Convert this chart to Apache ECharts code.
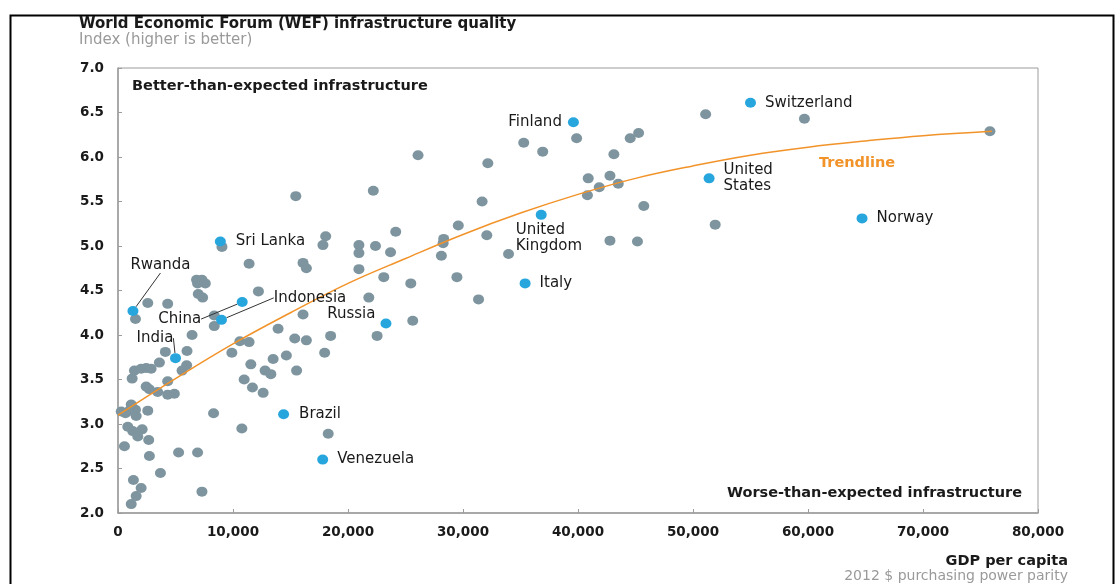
<!DOCTYPE html>
<html>
<head>
<meta charset="utf-8">
<title>WEF infrastructure quality vs GDP per capita</title>
<script src="https://cdn.jsdelivr.net/npm/echarts@6/dist/echarts.min.js"></script>
<style>
  html, body { margin: 0; padding: 0; background: #fff; }
  #chart { width: 1115px; height: 584px; }
</style>
</head>
<body>
<div id="chart"></div>
<script>
// unlabelled countries: GDP per capita (2012 $ PPP) and WEF index
const otherGdp = [
  1150, 1580, 2010, 1340, 3690, 7300, 560, 2730, 5270, 6920,
  850, 1280, 2100, 1720, 2670, 10770, 8310,
  1150, 1520, 1000, 1580, 650, 280, 2590,
  2450, 2730, 3450, 4320, 4900, 1230, 4320,
  1430, 2010, 2450, 2880, 3600, 4120, 6000, 5970, 5570,
  9900, 11550, 13490, 14640, 12790, 13290, 15530,
  10970, 11690, 12620, 10600, 11400, 6440, 13920,
  15370, 16380, 18490, 22530, 17970, 16090, 8370, 8370,
  1520, 2590, 4320, 12210,
  6830, 7300, 7590, 6920, 6980, 7360,
  11400, 9040, 16090, 16380, 18060, 17820,
  20950, 22390, 20950, 23700, 20950, 23110, 21810, 25460, 25630, 18280,
  15460, 22200, 24150, 26090, 32160, 35280, 31660, 29590, 32070,
  28320, 28270, 28120, 33960, 29470, 31350,
  36930, 39880, 44540, 45270, 43120,
  40890, 42780, 41850, 43500, 40820, 45720, 42780, 45170,
  51100, 59690, 75820, 51930
];
const otherWef = [
  2.10, 2.19, 2.28, 2.37, 2.45, 2.24, 2.75, 2.64, 2.68, 2.68,
  2.97, 2.92, 2.94, 2.86, 2.82, 2.95, 3.12,
  3.22, 3.16, 3.15, 3.09, 3.12, 3.14, 3.15,
  3.42, 3.39, 3.36, 3.33, 3.34, 3.51, 3.48,
  3.60, 3.62, 3.63, 3.62, 3.69, 3.81, 3.82, 3.66, 3.60,
  3.80, 3.67, 3.73, 3.77, 3.60, 3.56, 3.60,
  3.50, 3.41, 3.35, 3.93, 3.92, 4.00, 4.07,
  3.96, 3.94, 3.99, 3.99, 3.80, 4.23, 4.22, 4.10,
  4.18, 4.36, 4.35, 4.49,
  4.62, 4.62, 4.58, 4.58, 4.46, 4.42,
  4.80, 4.99, 4.81, 4.75, 5.11, 5.01,
  5.01, 5.00, 4.92, 4.93, 4.74, 4.65, 4.42, 4.58, 4.16, 2.89,
  5.56, 5.62, 5.16, 6.02, 5.93, 6.16, 5.50, 5.23, 5.12,
  5.08, 5.03, 4.89, 4.91, 4.65, 4.40,
  6.06, 6.21, 6.21, 6.27, 6.03,
  5.76, 5.79, 5.66, 5.70, 5.57, 5.45, 5.06, 5.05,
  6.48, 6.43, 6.29, 5.24
];

// highlighted countries
const countries = [
  "Switzerland", "Finland", "United States", "Norway", "United Kingdom",
  "Sri Lanka", "Italy", "Rwanda", "China", "Indonesia",
  "Russia", "India", "Brazil", "Venezuela"
];
const countryGdp = [55000, 39600, 51400, 64700, 36800, 8900, 35400, 1300, 10800, 9000, 23300, 5000, 14400, 17800];
const countryWef = [6.61, 6.39, 5.76, 5.31, 5.35, 5.05, 4.58, 4.27, 4.37, 4.17, 4.13, 3.74, 3.11, 2.60];

// trendline
const trendGdp = [0, 5000, 10000, 15000, 20000, 25000, 30000, 35000, 40000, 45000, 50000, 55000, 60000, 65000, 70000, 76000];
const trendWef = [3.10, 3.51, 3.90, 4.25, 4.58, 4.86, 5.13, 5.37, 5.58, 5.76, 5.90, 6.02, 6.11, 6.18, 6.24, 6.29];

const FONT = "DejaVu Sans, sans-serif";
const GREY_DOT = "#7e959f";
const BLUE_DOT = "#27a6de";
const ORANGE = "#f2932a";
const AXIS_GREY = "#9c9c9c";

// where each country's label sits next to its dot
const labelPlacement = {
  "Switzerland": { position: "right", distance: 9 },
  "Finland": { position: "left", distance: 6 },
  "United States": { position: "right", distance: 9, text: "United\nStates" },
  "Norway": { position: "right", distance: 9 },
  "United Kingdom": { position: [-20, 12], align: "left", verticalAlign: "top", text: "United\nKingdom" },
  "Sri Lanka": { position: "right", distance: 10 },
  "Italy": { position: "right", distance: 9 },
  "Rwanda": { position: [33, -41], align: "center", verticalAlign: "middle", line: true },
  "China": { position: [-57, 22], align: "center", verticalAlign: "middle", line: true },
  "Indonesia": { position: [94, -17], align: "center", verticalAlign: "middle", line: true },
  "Russia": { position: [-5, -4], align: "right", verticalAlign: "middle" },
  "India": { position: [-15, -15], align: "center", verticalAlign: "middle", line: true },
  "Brazil": { position: "right", distance: 10 },
  "Venezuela": { position: "right", distance: 9 }
};

const otherPoints = otherGdp.map((g, i) => [g, otherWef[i]]);
const trendPoints = trendGdp.map((g, i) => [g, trendWef[i]]);
const countryPoints = countries.map((name, i) => {
  const p = labelPlacement[name];
  const label = { position: p.position, formatter: p.text || name };
  if (p.distance !== undefined) label.distance = p.distance;
  if (p.align) label.align = p.align;
  if (p.verticalAlign) label.verticalAlign = p.verticalAlign;
  const item = { name: name, value: [countryGdp[i], countryWef[i]], label: label };
  if (p.line) {
    item.labelLine = { show: true, lineStyle: { color: "#333", width: 1 } };
  }
  return item;
});

const chart = echarts.init(document.getElementById("chart"));

const option = {
  backgroundColor: "#fff",
  animation: false,
  title: {
    text: "World Economic Forum (WEF) infrastructure quality",
    subtext: "Index (higher is better)",
    left: 79,
    top: 16,
    itemGap: 0,
    padding: 0,
    textStyle: { fontFamily: FONT, fontSize: 15, fontWeight: "bold", color: "#1a1a1a", lineHeight: 17 },
    subtextStyle: { fontFamily: FONT, fontSize: 15, color: "#9a9a9a", lineHeight: 14 }
  },
  grid: {
    left: 118,
    right: 77,
    top: 68,
    bottom: 71,
    show: true,
    borderColor: AXIS_GREY,
    borderWidth: 1
  },
  xAxis: {
    type: "value",
    min: 0,
    max: 80000,
    interval: 10000,
    axisLine: { show: true, lineStyle: { color: AXIS_GREY, width: 1.5 } },
    axisTick: { show: true, inside: true, length: 4, lineStyle: { color: AXIS_GREY } },
    splitLine: { show: false },
    axisLabel: {
      margin: 12,
      fontFamily: FONT,
      fontSize: 13.5,
      fontWeight: "bold",
      color: "#1a1a1a",
      formatter: v => v.toLocaleString("en-US")
    }
  },
  yAxis: {
    type: "value",
    min: 2,
    max: 7,
    interval: 0.5,
    axisLine: { show: true, lineStyle: { color: AXIS_GREY, width: 1.5 } },
    axisTick: { show: true, inside: true, length: 4, lineStyle: { color: AXIS_GREY } },
    splitLine: { show: false },
    axisLabel: {
      margin: 14,
      fontFamily: FONT,
      fontSize: 13.5,
      fontWeight: "bold",
      color: "#1a1a1a",
      formatter: v => v.toFixed(1)
    }
  },
  series: [
    {
      name: "Other countries",
      type: "scatter",
      data: otherPoints,
      symbolSize: [11, 10],
      itemStyle: { color: GREY_DOT, opacity: 1 },
      z: 2
    },
    {
      name: "Trendline",
      type: "line",
      data: trendPoints,
      smooth: 0.4,
      showSymbol: false,
      lineStyle: { color: ORANGE, width: 1.5 },
      z: 3
    },
    {
      name: "Highlighted",
      type: "scatter",
      data: countryPoints,
      symbolSize: [11, 10],
      itemStyle: { color: BLUE_DOT, opacity: 1 },
      label: {
        show: true,
        fontFamily: FONT,
        fontSize: 15,
        color: "#1a1a1a",
        lineHeight: 16
      },
      z: 4
    }
  ],
  graphic: [
    {
      type: "rect",
      left: 8,
      top: 13,
      shape: { width: 1103, height: 600 },
      style: { fill: "none", stroke: "#000", lineWidth: 2 },
      silent: true
    },
    {
      type: "text",
      style: {
        text: "Better-than-expected infrastructure",
        x: 132, y: 86,
        textAlign: "left", textVerticalAlign: "middle",
        font: "bold 14.5px " + FONT, fill: "#1a1a1a"
      }
    },
    {
      type: "text",
      style: {
        text: "Worse-than-expected infrastructure",
        x: 1022, y: 493,
        textAlign: "right", textVerticalAlign: "middle",
        font: "bold 14.5px " + FONT, fill: "#1a1a1a"
      }
    },
    {
      type: "text",
      style: {
        text: "Trendline",
        x: 819, y: 163,
        textAlign: "left", textVerticalAlign: "middle",
        font: "bold 14.5px " + FONT, fill: ORANGE
      }
    },
    {
      type: "text",
      style: {
        text: "GDP per capita",
        x: 1068, y: 561,
        textAlign: "right", textVerticalAlign: "middle",
        font: "bold 14.5px " + FONT, fill: "#1a1a1a"
      }
    },
    {
      type: "text",
      style: {
        text: "2012 $ purchasing power parity",
        x: 1068, y: 576,
        textAlign: "right", textVerticalAlign: "middle",
        font: "14px " + FONT, fill: "#9a9a9a"
      }
    }
  ]
};

chart.setOption(option);
</script>
</body>
</html>
